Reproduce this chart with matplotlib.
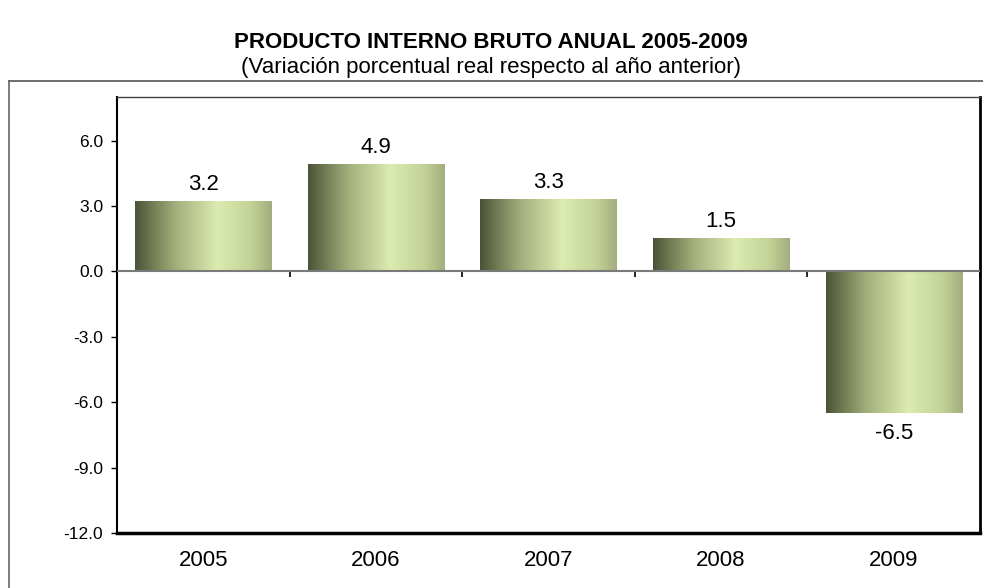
import numpy as np
import matplotlib
matplotlib.use("Agg")
import matplotlib.pyplot as plt
from matplotlib.colors import LinearSegmentedColormap
from matplotlib.lines import Line2D

years = ["2005", "2006", "2007", "2008", "2009"]
values = [3.2, 4.9, 3.3, 1.5, -6.5]
yticks = [-12.0, -9.0, -6.0, -3.0, 0.0, 3.0, 6.0]
title = "PRODUCTO INTERNO BRUTO ANUAL 2005-2009"
subtitle = "(Variación porcentual real respecto al año anterior)"

plt.rcParams['font.family'] = ['Liberation Sans', 'DejaVu Sans']

fig = plt.figure(figsize=(9.83, 5.88), dpi=100)
fig.patch.set_facecolor("white")

# outer frame (top and left edges)
fy = 1 - 81 / 588
fx = 9 / 983
fig.add_artist(Line2D([fx, 1.0], [fy, fy], color="#555555", lw=1.2, transform=fig.transFigure))
fig.add_artist(Line2D([fx, fx], [0, fy], color="#666666", lw=1.2, transform=fig.transFigure))

fig.text(0.499, 1 - 42 / 588, title, ha="center", va="center", fontsize=16, fontweight="bold")
fig.text(0.499, 1 - 67 / 588, subtitle, ha="center", va="center", fontsize=16)

ax = fig.add_axes([117 / 983, 1 - 533 / 588, (980 - 117) / 983, (533 - 97) / 588])
x = np.arange(len(years))
bars = ax.bar(x, values, width=0.79, color="none", edgecolor="none", zorder=2)

cmap = LinearSegmentedColormap.from_list("olive", [
    (0.0, "#4a5337"), (0.12, "#6f7a52"), (0.3, "#a3b07c"),
    (0.6, "#dcebb0"), (0.85, "#c3d296"), (1.0, "#a2ae7e")])
grad = np.linspace(0, 1, 256).reshape(1, -1)
for b in bars:
    x0, y0, w, h = b.get_x(), b.get_y(), b.get_width(), b.get_height()
    ax.imshow(grad, cmap=cmap, aspect="auto", extent=(x0, x0 + w, min(y0, y0 + h), max(y0, y0 + h)),
              zorder=2, interpolation="bilinear")

ax.set_xlim(-0.5, len(years) - 0.5)
ax.set_ylim(-12, 8)

for v, xi in zip(values, x):
    if v >= 0:
        ax.annotate(f"{v:.1f}", (xi, v), xytext=(0, 5), textcoords="offset points",
                    ha="center", va="bottom", fontsize=16)
    else:
        ax.annotate(f"{v:.1f}", (xi, v), xytext=(0, -7), textcoords="offset points",
                    ha="center", va="top", fontsize=16)

ax.axhline(0, color="#7a7a7a", lw=1.5, zorder=3)

ax.set_yticks(yticks)
ax.set_yticklabels([f"{t:.1f}" for t in yticks], fontsize=12.5)
ax.tick_params(axis="y", length=4, width=1, direction="out", pad=6)
ax.set_xticks(x)
ax.set_xticklabels(years, fontsize=16)
ax.tick_params(axis="x", length=0, pad=12)

sec = ax.secondary_xaxis(0.6)
sec.xaxis.set_ticks_position("bottom")
sec.set_xticks(np.arange(len(years) + 1) - 0.5)
sec.set_xticklabels([""] * (len(years) + 1))
sec.tick_params(axis="x", length=4, width=1.2, direction="out", labelbottom=False, labeltop=False)
sec.spines["bottom"].set_visible(False)
sec.spines["top"].set_visible(False)

ax.spines["left"].set_linewidth(1.5)
ax.spines["bottom"].set_linewidth(2.5)
ax.spines["right"].set_linewidth(2.0)
ax.spines["top"].set_linewidth(1.0)
ax.spines["top"].set_color("#404040")

fig.savefig("out.png", dpi=100)
